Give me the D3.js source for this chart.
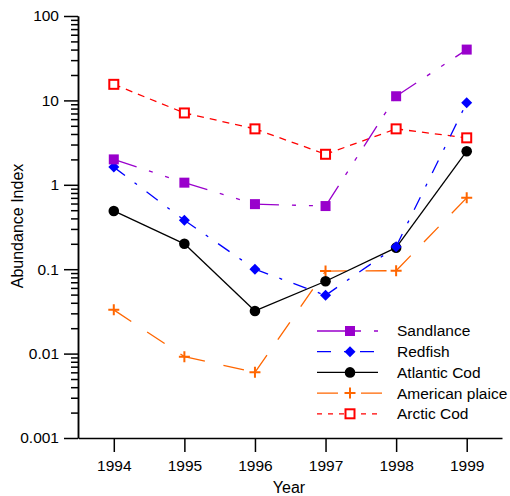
<!DOCTYPE html>
<html>
<head>
<meta charset="utf-8">
<script src="https://cdn.jsdelivr.net/npm/d3@7"></script>
<style>
  body { margin: 0; background: #fff; }
  svg { display: block; font-family: "Liberation Sans", Arial, sans-serif; }
  .axis text { font-size: 15.5px; fill: #000; }
  .axis path, .axis line { stroke: #000; stroke-width: 1.5; }
</style>
</head>
<body>
<div id="chart"></div>
<script>
// data
const years = [1994, 1995, 1996, 1997, 1998, 1999];
const sandlance = [2.0, 1.06, 0.59, 0.56, 11.2, 40];
const redfish = [1.62, 0.38, 0.10, 0.049, 0.185, 9.4];
const atlanticCod = [0.49, 0.20, 0.032, 0.072, 0.18, 2.5];
const americanPlaice = [0.033, 0.0092, 0.0060, 0.095, 0.096, 0.70];
const arcticCod = [15.5, 7.1, 4.6, 2.3, 4.6, 3.6];

const seriesNames = ['Sandlance', 'Redfish', 'Atlantic Cod', 'American plaice', 'Arctic Cod'];
const seriesValues = [sandlance, redfish, atlanticCod, americanPlaice, arcticCod];
const yMajorTicks = [0.001, 0.01, 0.1, 1, 10, 100];
const yTickLabels = ['0.001', '0.01', '0.1', '1', '10', '100'];

// styles per series, same order as names
const colors = ['#9900cc', '#0000ff', '#000000', '#ff6600', '#ff0000'];
const markers = ['square', 'diamond', 'circle', 'plus', 'openSquare'];
const dashes = ['24,13,4,13,4,13', '14,12,3,12', null, '21,19', '7,6'];
const legendDashes = ['44,13,4,13', '14,13,3,13', null, '21,23', '5,6'];

const width = 510, height = 496;

const svg = d3.select('#chart')
  .append('svg')
  .attr('width', width)
  .attr('height', height);

const x = d3.scaleLinear()
  .domain([1993.5, 1999.5])
  .range([78.5, 502]);

const y = d3.scaleLog()
  .domain([0.001, 100])
  .range([438, 16]);

// minor ticks 2..9 of every decade
const yMinorTicks = [];
yMajorTicks.slice(0, -1).forEach(d => {
  for (let k = 2; k <= 9; k++) yMinorTicks.push(d * k);
});

svg.append('g')
  .attr('class', 'axis')
  .attr('transform', 'translate(78,0)')
  .call(d3.axisLeft(y).tickValues(yMinorTicks).tickSize(7).tickSizeOuter(0).tickFormat(''));

svg.append('g')
  .attr('class', 'axis')
  .attr('transform', 'translate(78,0)')
  .call(d3.axisLeft(y).tickValues(yMajorTicks).tickSize(14).tickSizeOuter(0).tickPadding(5)
    .tickFormat((d, i) => yTickLabels[i]));

svg.append('g')
  .attr('class', 'axis')
  .attr('transform', 'translate(0,438)')
  .call(d3.axisBottom(x).tickValues(years).tickSize(14).tickSizeOuter(0).tickPadding(8)
    .tickFormat(d3.format('d')));

svg.append('text')
  .attr('x', 289)
  .attr('y', 493)
  .attr('text-anchor', 'middle')
  .attr('font-size', 16)
  .text('Year');

svg.append('text')
  .attr('transform', 'translate(23,226) rotate(-90)')
  .attr('text-anchor', 'middle')
  .attr('font-size', 16)
  .text('Abundance Index');

function drawMarker(g, type, color, cx, cy) {
  if (type === 'square') {
    g.append('rect').attr('x', cx - 5).attr('y', cy - 5).attr('width', 10).attr('height', 10)
      .attr('fill', color);
  } else if (type === 'openSquare') {
    g.append('rect').attr('x', cx - 4.5).attr('y', cy - 4.5).attr('width', 9).attr('height', 9)
      .attr('fill', '#fff').attr('stroke', color).attr('stroke-width', 2);
  } else if (type === 'diamond') {
    g.append('path').attr('d', `M${cx},${cy - 5.5}L${cx + 5.5},${cy}L${cx},${cy + 5.5}L${cx - 5.5},${cy}Z`)
      .attr('fill', color);
  } else if (type === 'circle') {
    g.append('circle').attr('cx', cx).attr('cy', cy).attr('r', 5.3).attr('fill', color);
  } else if (type === 'plus') {
    g.append('path').attr('d', `M${cx - 5.5},${cy}H${cx + 5.5}M${cx},${cy - 5.5}V${cy + 5.5}`)
      .attr('stroke', color).attr('stroke-width', 2).attr('fill', 'none');
  }
}

// draw back to front so Sandlance ends on top
const order = [4, 3, 2, 1, 0];
order.forEach(i => {
  const vals = seriesValues[i];
  const g = svg.append('g').attr('class', 'series');
  // each segment on its own so the dash pattern restarts at every point
  const segs = d3.pairs(years.map((yr, j) => [x(yr), y(vals[j])]));
  g.selectAll('line')
    .data(segs)
    .enter().append('line')
    .attr('x1', d => d[0][0]).attr('y1', d => d[0][1])
    .attr('x2', d => d[1][0]).attr('y2', d => d[1][1])
    .attr('stroke', colors[i])
    .attr('stroke-width', 1.3)
    .attr('stroke-dasharray', dashes[i]);
  years.forEach((yr, j) => drawMarker(g, markers[i], colors[i], x(yr), y(vals[j])));
});

// legend
const legend = svg.append('g').attr('class', 'legend');
seriesNames.forEach((name, i) => {
  const ly = 331 + i * 20.7;
  legend.append('line')
    .attr('x1', 317).attr('x2', i === 3 ? 382 : 378)
    .attr('y1', ly).attr('y2', ly)
    .attr('stroke', colors[i])
    .attr('stroke-width', 1.3)
    .attr('stroke-dasharray', legendDashes[i]);
  drawMarker(legend, markers[i], colors[i], 350, ly);
  legend.append('text')
    .attr('x', 397)
    .attr('y', ly)
    .attr('dy', '0.35em')
    .attr('font-size', 15.5)
    .text(name);
});
</script>
</body>
</html>
